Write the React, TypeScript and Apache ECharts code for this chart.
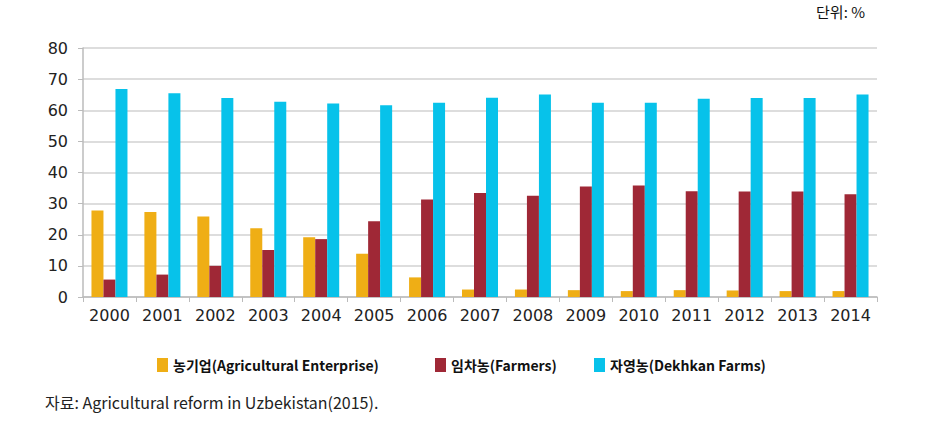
import React, { useEffect, useRef } from "react";
import * as echarts from "echarts";

const years = ["2000","2001","2002","2003","2004","2005","2006","2007","2008","2009","2010","2011","2012","2013","2014"];
const enterprise = [27.8, 27.3, 25.9, 22.1, 19.2, 13.9, 6.3, 2.4, 2.4, 2.2, 1.9, 2.2, 2.1, 1.9, 1.9];
const farmers = [5.6, 7.2, 10.0, 15.1, 18.6, 24.3, 31.3, 33.4, 32.5, 35.5, 35.8, 34.0, 33.9, 33.9, 33.0];
const dekhkan = [66.8, 65.5, 63.9, 62.7, 62.2, 61.6, 62.4, 64.0, 65.1, 62.4, 62.4, 63.7, 63.9, 63.9, 65.1];
const seriesNames = ["농기업(Agricultural Enterprise)", "임차농(Farmers)", "자영농(Dekhkan Farms)"];
const colors = ["#EFAE15", "#9F2836", "#07C2EA"];

export default function App() {
  const ref = useRef<HTMLDivElement>(null);
  useEffect(() => {
    if (!ref.current) return;
    const chart = echarts.init(ref.current, undefined, { renderer: "svg" });
    const legendBase = {
      top: 353,
      itemWidth: 11,
      itemHeight: 14,
      icon: "rect",
      textStyle: {
        fontFamily: "Noto Sans CJK KR",
        fontWeight: "bold" as const,
        fontSize: 14,
        color: "#111",
        padding: [0, 0, 0, 0],
      },
    };
    const lefts = [152, 430, 589];
    chart.setOption({
      animation: false,
      backgroundColor: "#fff",
      grid: { left: 83, right: 69, top: 48, bottom: 126, containLabel: false },
      legend: seriesNames.map((n, i) => ({ ...legendBase, left: lefts[i], data: [n] })),
      xAxis: {
        type: "category",
        data: years,
        axisLine: { lineStyle: { color: "#bbbbbb", width: 1.5 } },
        axisTick: { show: true, length: 5, interval: 0, lineStyle: { color: "#bbbbbb" } },
        axisLabel: {
          interval: 0,
          hideOverlap: false,
          fontFamily: "DejaVu Sans",
          fontSize: 16,
          color: "#222",
          margin: 10,
        },
      },
      yAxis: {
        type: "value",
        min: 0,
        max: 80,
        interval: 10,
        axisLine: { show: true, lineStyle: { color: "#bbbbbb", width: 1.5 } },
        axisTick: { show: true, length: 5, lineStyle: { color: "#bbbbbb" } },
        axisLabel: { fontFamily: "DejaVu Sans", fontSize: 16, color: "#222", margin: 15 },
        splitLine: { lineStyle: { color: "#d2d2d2", width: 1.5 } },
      },
      series: [enterprise, farmers, dekhkan].map((d, i) => ({
        type: "bar",
        name: seriesNames[i],
        data: d,
        barWidth: 12,
        barGap: "0%",
        itemStyle: { color: colors[i] },
      })),
      graphic: [
        {
          type: "text",
          right: 946 - 865,
          top: 4,
          style: { text: "단위: %", fontFamily: "Noto Sans CJK KR", fontSize: 15, fill: "#111" },
        },
        {
          type: "text",
          left: 45,
          top: 394,
          style: {
            text: "자료: Agricultural reform in Uzbekistan(2015).",
            fontFamily: "Noto Sans CJK KR",
            fontSize: 16,
            fill: "#222",
          },
        },
      ],
    });
    return () => chart.dispose();
  }, []);
  return (
    <div
      ref={ref}
      style={{ position: "fixed", left: 0, top: 0, width: 946, height: 423 }}
    />
  );
}
